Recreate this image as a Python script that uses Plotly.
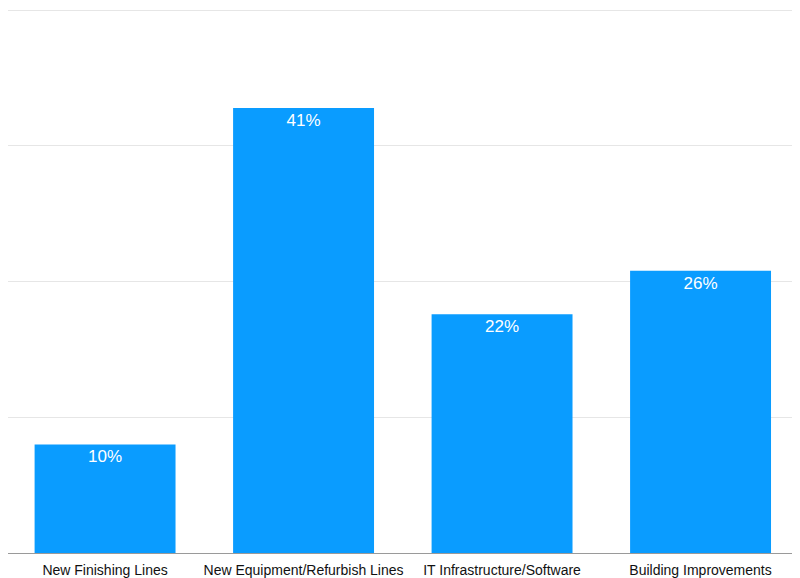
import plotly.graph_objects as go

categories = ["New Finishing Lines", "New Equipment/Refurbish Lines",
              "IT Infrastructure/Software", "Building Improvements"]
values = [10, 41, 22, 26]
labels = ["10%", "41%", "22%", "26%"]

fig = go.Figure(go.Bar(
    x=categories, y=values, text=labels,
    textposition="inside", insidetextanchor="end",
    textfont=dict(color="white", size=17, family="Liberation Sans, Arial, sans-serif"),
    marker=dict(color="#0a9cff", line=dict(width=0)),
    cliponaxis=False,
))
fig.update_layout(
    width=792, height=570,
    margin=dict(l=0, r=0, t=0, b=25, autoexpand=False),
    paper_bgcolor="white", plot_bgcolor="white",
    bargap=0.29,
    showlegend=False,
    font=dict(family="Liberation Sans, Arial, sans-serif", size=14, color="#111"),
    xaxis=dict(range=[-0.489, 3.501], showline=True, linecolor="#9a9a9a", linewidth=1,
               ticks="", ticklabelstandoff=4, automargin=False,
               tickfont=dict(size=14, color="#111")),
    yaxis=dict(range=[0, 50.2], tickvals=[12.5, 25, 37.5, 50], showticklabels=False,
               showgrid=True, gridcolor="#e6e6e6", gridwidth=1, zeroline=False),
)
fig.write_html("out.html")
